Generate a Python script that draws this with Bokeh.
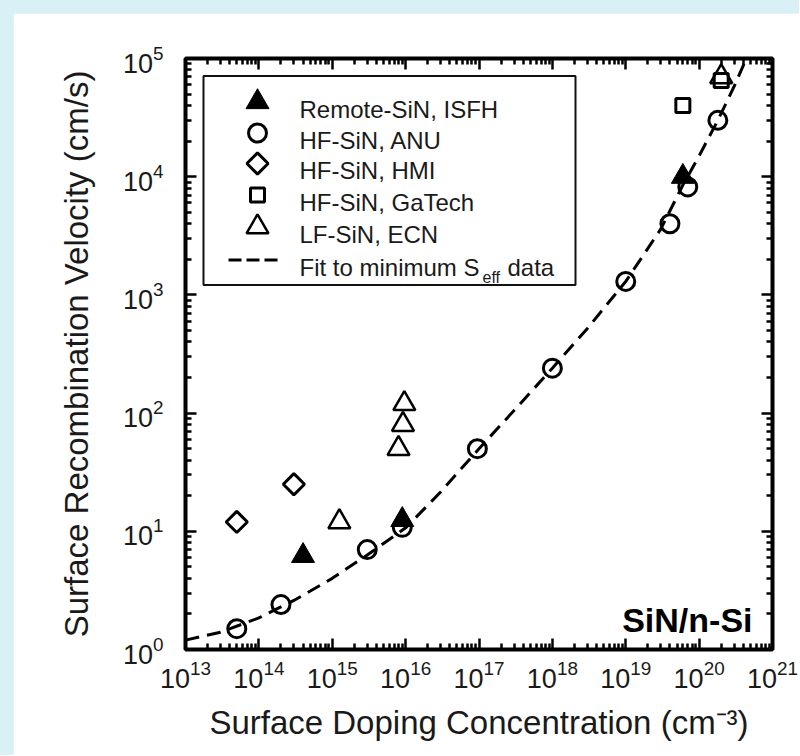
import numpy as np
from bokeh.plotting import figure
from bokeh.models import (Range1d, LinearScale, LogAxis, FixedTicker,
                          CustomJSTickFormatter)
from bokeh.core.properties import value
from bokeh.layouts import column
from bokeh.embed import file_html
from bokeh.resources import INLINE

# ---------------- data ----------------
isfh_n = [4e14, 9e15, 6e19]
isfh_s = [6.2, 12.5, 1.0e4]

anu_n = [5e13, 2e14, 3e15, 9e15, 9.5e16, 1e18, 1e19, 4e19, 7e19, 1.8e20]
anu_s = [1.5, 2.4, 7.0, 10.8, 50, 240, 1300, 4000, 8200, 30000]

hmi_n = [5e13, 3e14]
hmi_s = [12, 25]

gatech_n = [6e19, 2e20]
gatech_s = [40000, 65000]

ecn_n = [1.25e15, 8e15, 9.2e15, 9.6e15, 2e20]
ecn_s = [12, 50, 80, 120, 70000]

fit_n = [1e13, 3e13, 1e14, 3e14, 1e15, 3e15, 1e16, 3e16, 1e17, 3e17, 1e18,
         3e18, 1e19, 3e19, 6e19, 1e20, 1.8e20, 3e20, 4.4e20]
fit_s = [1.2, 1.4, 1.85, 2.6, 4.0, 6.3, 10.7, 21.5, 50, 105, 240,
         520, 1300, 3600, 8500, 15000, 30000, 58000, 100000]

x_exponents = list(range(13, 22))
y_exponents = list(range(0, 6))

series_labels = ["Remote-SiN, ISFH", "HF-SiN, ANU", "HF-SiN, HMI",
                 "HF-SiN, GaTech", "LF-SiN, ECN", "Fit to minimum S"]
fit_sub = "eff"
fit_tail = "data"
x_title = "Surface Doping Concentration (cm\u207b\u00b3)"
y_title = "Surface Recombination Velocity (cm/s)"
panel_label = "SiN/n-Si"

# ---------------- layout constants (frame pixels, origin bottom-left) ----------------
FW, FH = 587, 591
LEG_BOX = dict(left=18, right=390, top=573.5, bottom=364.5)
LEG_ROWS = [547.5, 516.5, 486, 454.5, 422.5, 389.5]
LEG_MARK_X = 72
LEG_LINE_X = (43, 93)
LEG_TEXT_X = 114
BASE_OFF = -7.3

FONT = "Liberation Sans"
TXT = "#1a1a1a"

# ---------------- figure ----------------
p = figure(x_axis_type="log", y_axis_type="log",
           x_range=Range1d(10.0 ** x_exponents[0], 10.0 ** x_exponents[-1]),
           y_range=Range1d(10.0 ** y_exponents[0], 10.0 ** y_exponents[-1]),
           frame_width=FW, frame_height=FH,
           min_border_left=172, min_border_right=27,
           min_border_top=45, min_border_bottom=106,
           output_backend="svg", toolbar_location=None,
           background_fill_color="white", border_fill_color="white")
p.margin = (13, 0, 0, 13)
p.extra_x_ranges = {"px": Range1d(0, FW)}
p.extra_y_ranges = {"px": Range1d(0, FH)}
p.extra_x_scales = {"px": LinearScale()}
p.extra_y_scales = {"px": LinearScale()}
p.outline_line_color = "black"
p.outline_line_width = 4
p.xgrid.grid_line_color = None
p.ygrid.grid_line_color = None

x_major = [10.0 ** k for k in x_exponents]
x_minor = [m * 10.0 ** k for k in x_exponents[:-1] for m in range(2, 10)]
y_major = [10.0 ** k for k in y_exponents]
y_minor = [m * 10.0 ** k for k in y_exponents[:-1] for m in range(2, 10)]


def style_axis(ax, ticks, minor):
    ax.ticker = FixedTicker(ticks=ticks, minor_ticks=minor)
    ax.axis_line_color = None
    ax.major_tick_in = 11
    ax.major_tick_out = 0
    ax.minor_tick_in = 6
    ax.minor_tick_out = 0
    ax.major_tick_line_width = 2.5
    ax.minor_tick_line_width = 2.5
    ax.major_tick_line_color = "black"
    ax.minor_tick_line_color = "black"
    ax.major_label_text_font = FONT
    ax.major_label_text_font_size = "27px"
    ax.major_label_text_color = TXT
    ax.axis_label_text_font = FONT
    ax.axis_label_text_font_size = "33px"
    ax.axis_label_text_font_style = "normal"
    ax.axis_label_text_color = TXT


xa = p.xaxis[0]
ya = p.yaxis[0]
style_axis(xa, x_major, x_minor)
style_axis(ya, y_major, y_minor)
xa.axis_label = x_title
ya.axis_label = y_title
xa.major_label_standoff = 10
xa.axis_label_standoff = 13
ya.major_label_standoff = 22
ya.axis_label_standoff = 25

blank = CustomJSTickFormatter(code="return ''")
top_axis = LogAxis(formatter=blank)
right_axis = LogAxis(formatter=blank)
style_axis(top_axis, x_major, x_minor)
style_axis(right_axis, y_major, y_minor)
for ax in (top_axis, right_axis):
    ax.major_label_standoff = 0
    ax.major_label_text_font_size = "1px"
p.add_layout(top_axis, "above")
p.add_layout(right_axis, "right")

# ---------------- marker styles ----------------
styles = [
    dict(marker="triangle", size=23, fill_color="black", line_color="black", line_width=1),
    dict(marker="circle", size=18, fill_color=None, line_color="black", line_width=3),
    dict(marker="square", angle=np.pi / 4, size=15, fill_color=None, line_color="black", line_width=3),
    dict(marker="square", size=14, fill_color=None, line_color="black", line_width=3),
    dict(marker="triangle", size=22, fill_color=None, line_color="black", line_width=2.5),
]
fit_style = dict(line_color="black", line_width=3)

# ---------------- data glyphs ----------------
p.line(fit_n, fit_s, line_dash="14 8", **fit_style)
p.scatter(anu_n, anu_s, **styles[1])
p.scatter(hmi_n, hmi_s, **styles[2])
p.scatter(gatech_n, gatech_s, **styles[3])
p.scatter(ecn_n, ecn_s, **styles[4])
p.scatter(isfh_n, isfh_s, **styles[0])

# ---------------- legend (drawn in frame-pixel space) ----------------
PX = dict(x_range_name="px", y_range_name="px")
p.quad(left=[LEG_BOX["left"]], right=[LEG_BOX["right"]], top=[LEG_BOX["top"]],
       bottom=[LEG_BOX["bottom"]], fill_color=None, line_color="#111111",
       line_width=2, **PX)
for row_y, st in zip(LEG_ROWS[:5], styles):
    p.scatter([LEG_MARK_X], [row_y], **st, **PX)
p.line(list(LEG_LINE_X), [LEG_ROWS[5], LEG_ROWS[5]], line_dash="13 5", **fit_style, **PX)
p.text(x=[LEG_TEXT_X] * len(series_labels), y=[r + BASE_OFF for r in LEG_ROWS],
       text=series_labels, text_font=value(FONT), text_font_size="24px",
       text_color=TXT, text_baseline="alphabetic", **PX)
p.text(x=[297], y=[372.5], text=[fit_sub], text_font=value(FONT), text_font_size="16px",
       text_color=TXT, text_baseline="alphabetic", **PX)
p.text(x=[322], y=[LEG_ROWS[5] + BASE_OFF], text=[fit_tail], text_font=value(FONT),
       text_font_size="24px", text_color=TXT, text_baseline="alphabetic", **PX)

p.text(x=[567], y=[29.5], text=[panel_label], text_font=value(FONT), text_font_size="34px",
       text_font_style="bold", text_color="black", text_align="right",
       text_baseline="alphabetic", **PX)

root = column(p, styles={"background-color": "#d9f0f7"})
open("out.html", "w").write(file_html(root, INLINE))
